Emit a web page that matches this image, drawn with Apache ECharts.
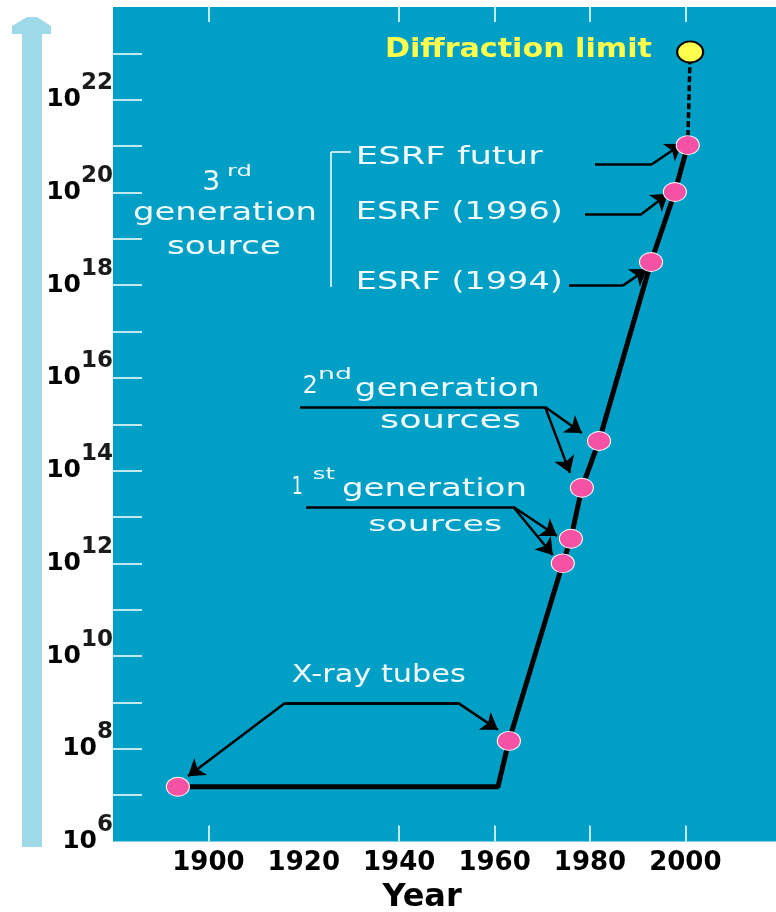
<!DOCTYPE html>
<html><head><meta charset="utf-8">
<script src="https://cdn.jsdelivr.net/npm/echarts@6/dist/echarts.min.js"></script>
<style>html,body{margin:0;padding:0;background:#fff}#c{width:776px;height:912px}</style>
</head><body><div id="c"></div>
<script>
// ---- data ----
const xTickLabels = [1900, 1920, 1940, 1960, 1980, 2000];
const xTickMarks = [1900, 1940, 1960, 1980, 2000];
const yTickExponents = [6, 8, 10, 12, 14, 16, 18, 20, 22];
const yTickMarks = [7, 8, 9, 10, 11, 12, 13, 14, 15, 16, 17, 18, 19, 20, 21, 22, 23];
const sourceYears = [1893.6, 1963.0, 1974.3, 1976.0, 1978.3, 1981.9, 1992.8, 1997.8, 2000.5];
const sourceLog10 = [7.18, 8.17, 12.0, 12.53, 13.63, 14.64, 18.5, 20.01, 21.02];
const tubeEraEnd = [1960.7, 7.18];
const diffractionLimit = [2001.0, 23.03];

// leader lines (data coordinates: [year, log10 brilliance])
const arrowPaths = [
  [[1981.05, 20.61], [1993.0, 20.61], [1999.3, 21.05]],
  [[1978.95, 19.54], [1990.9, 19.54], [1996.35, 19.97]],
  [[1975.6, 17.99], [1986.9, 17.99], [1991.95, 18.35]],
  [[1919.2, 15.37], [1970.6, 15.37], [1978.3, 14.81]],
  [[1970.6, 15.37], [1975.8, 13.95]],
  [[1920.5, 13.22], [1963.9, 13.22], [1973.1, 12.59]],
  [[1963.9, 13.22], [1972.2, 12.18]],
  [[1952.33, 8.99], [1916.06, 8.99], [1895.72, 7.41]],
  [[1916.06, 8.99], [1952.33, 8.99], [1960.71, 8.41]]
];
const bracketPath = [[1929.9, 20.87], [1925.7, 20.87], [1925.7, 17.96]];

// annotation texts: anchor (left, middle) in data coords, target width in px
const labels = [
  {text: 'Diffraction limit', at: [1937.0, 23.07], w: 267, size: 26, bold: true, color: '#ffff4d'},
  {text: 'ESRF futur', at: [1930.9, 20.74], w: 187, size: 24},
  {text: 'ESRF (1996)', at: [1930.9, 19.56], w: 207, size: 24},
  {text: 'ESRF (1994)', at: [1930.9, 18.05], w: 207, size: 24},
  {text: '3', at: [1898.7, 20.20], w: 18, size: 26},
  {text: 'rd', at: [1903.9, 20.44], w: 25, size: 16},
  {text: 'generation', at: [1884.2, 19.54], w: 184, size: 24},
  {text: 'source', at: [1891.3, 18.80], w: 114, size: 24},
  {text: '2', at: [1919.8, 15.80], w: 15, size: 24},
  {text: 'nd', at: [1923.0, 16.06], w: 34, size: 16},
  {text: 'generation', at: [1930.7, 15.74], w: 185, size: 24},
  {text: 'sources', at: [1936.0, 15.05], w: 141, size: 24},
  {text: '1', at: [1917.5, 13.63], w: 11, size: 24},
  {text: 'st', at: [1921.9, 13.91], w: 22, size: 16},
  {text: 'generation', at: [1928.0, 13.58], w: 185, size: 24},
  {text: 'sources', at: [1933.5, 12.83], w: 134, size: 22},
  {text: 'X-ray tubes', at: [1917.5, 9.57], w: 174, size: 24}
];

const TEAL = '#00a0c6', PINK = '#f552a5', FONT = 'DejaVu Sans';
const pts = sourceYears.map((y, i) => [y, sourceLog10[i]]);
const path = [pts[0], tubeEraEnd].concat(pts.slice(1));

const plainSegs = [], arrowSegs = [];
arrowPaths.forEach(p => {
  for (let i = 0; i < p.length - 1; i++) {
    (i === p.length - 2 ? arrowSegs : plainSegs).push({coords: [p[i], p[i + 1]]});
  }
});
const bracketSegs = [];
for (let i = 0; i < bracketPath.length - 1; i++) bracketSegs.push({coords: [bracketPath[i], bracketPath[i + 1]]});

const chart = echarts.init(document.getElementById('c'));
chart.setOption({
  animation: false,
  backgroundColor: '#fff',
  grid: {left: 113, right: 0, top: 7, bottom: 70.5, show: true, backgroundColor: TEAL, borderWidth: 0},
  xAxis: [{
    type: 'value', min: 1880, max: 2019, interval: 20, position: 'bottom',
    axisLine: {show: false}, splitLine: {show: false},
    axisTick: {inside: true, length: 16, lineStyle: {color: '#fff', width: 1.5}, customValues: xTickMarks},
    axisLabel: {customValues: xTickLabels, margin: 9, color: '#000', fontFamily: FONT, fontWeight: 'bold', fontSize: 26,
      formatter: v => (xTickLabels.indexOf(v) >= 0 ? String(v) : '')}
  }, {
    type: 'value', min: 1880, max: 2019, interval: 20, position: 'top',
    axisLine: {show: false}, splitLine: {show: false}, axisLabel: {show: false},
    axisTick: {inside: true, length: 15, lineStyle: {color: '#fff', width: 1.5}, customValues: xTickMarks}
  }],
  yAxis: {
    type: 'value', min: 6, max: 24, interval: 1,
    axisLine: {show: false}, splitLine: {show: false},
    axisTick: {inside: true, length: 29, lineStyle: {color: '#fff', width: 1.5}, customValues: yTickMarks},
    axisLabel: {
      customValues: yTickExponents, margin: 0,
      formatter: v => (yTickExponents.indexOf(v) >= 0 ? '{b|10}{s|' + v + '}' : ''),
      rich: {
        b: {fontFamily: FONT, fontWeight: 'bold', fontSize: 25, color: '#000', lineHeight: 25},
        s: {fontFamily: FONT, fontWeight: 'bold', fontSize: 23, color: '#1a1a1a', lineHeight: 22, padding: [0, 0, 33, 0]}
      }
    }
  },
  series: [
    {type: 'line', data: path, symbol: 'none', lineStyle: {color: '#000', width: 5}, z: 3},
    {type: 'line', data: [pts[pts.length - 1], diffractionLimit], symbol: 'none',
      lineStyle: {color: '#000', width: 3.5, type: [6, 3]}, z: 3},
    {type: 'lines', coordinateSystem: 'cartesian2d', data: plainSegs, symbol: 'none',
      lineStyle: {color: '#000', width: 2.5, opacity: 1, curveness: 0}, z: 4},
    {type: 'lines', coordinateSystem: 'cartesian2d', data: arrowSegs, symbol: ['none', 'arrow'], symbolSize: [10, 16],
      lineStyle: {color: '#000', width: 2.5, opacity: 1, curveness: 0}, z: 4},
    {type: 'lines', coordinateSystem: 'cartesian2d', data: bracketSegs, symbol: 'none',
      lineStyle: {color: '#fff', width: 1.5, opacity: 1, curveness: 0}, z: 4},
    {type: 'scatter', data: pts, symbol: 'circle', symbolSize: [23, 19],
      itemStyle: {color: PINK, borderColor: '#fff', borderWidth: 1, opacity: 1}, z: 6},
    {type: 'scatter', data: [diffractionLimit], symbol: 'circle', symbolSize: [26, 21],
      itemStyle: {color: '#ffff4d', borderColor: '#000', borderWidth: 2, opacity: 1}, z: 6}
  ]
});

// annotation texts placed through the grid's own scales
const ctx = document.createElement('canvas').getContext('2d');
const graphics = labels.map(a => {
  const p = chart.convertToPixel({gridIndex: 0}, a.at);
  const font = (a.bold ? 'bold ' : '') + a.size + 'px "' + FONT + '"';
  ctx.font = font;
  const w = ctx.measureText(a.text).width;
  return {type: 'text', x: p[0], y: p[1], scaleX: a.w / w, z: 100,
    style: {text: a.text, font: font, fill: a.color || '#f2fbff', align: 'left', verticalAlign: 'middle',
      textAlign: 'left', textVerticalAlign: 'middle'}};
});
const yearPos = chart.convertToPixel({gridIndex: 0}, [1944.8, 4.78]);
graphics.push({type: 'text', x: yearPos[0], y: yearPos[1], z: 100,
  style: {text: 'Year', font: 'bold 32px "' + FONT + '"', fill: '#000', align: 'center', verticalAlign: 'middle',
    textAlign: 'center', textVerticalAlign: 'middle'}});
// decorative upward arrow at the far left
graphics.push({type: 'polygon', z: 0, shape: {points: [[12, 34], [12, 26], [27, 17], [37, 17], [51, 26], [51, 34], [42, 34], [42, 847], [22, 847], [22, 34]]},
  style: {fill: '#9ed9ea'}});
chart.setOption({graphic: graphics});
</script>
</body></html>
